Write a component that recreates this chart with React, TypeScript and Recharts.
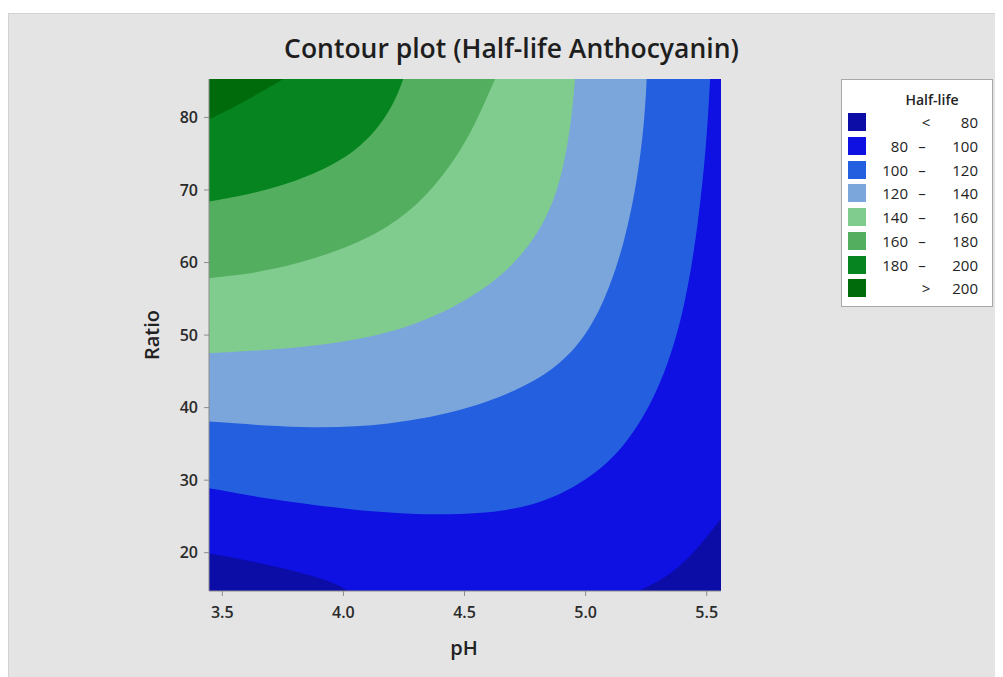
import { ComposedChart, Area, XAxis, YAxis, CartesianGrid } from "recharts";

const phTicks = [3.5, 4.0, 4.5, 5.0, 5.5];
const ratioTicks = [20, 30, 40, 50, 60, 70, 80];
const phMin = 3.445;
const phMax = 5.559;
const ratioMin = 14.72;
const ratioMax = 85.3;

// contour lines, as (pH, Ratio) points
const below80Left = [
  { ph: 3.445, ratio: 19.9 },
  { ph: 3.704, ratio: 18.3 },
  { ph: 3.875, ratio: 16.8 },
  { ph: 3.979, ratio: 15.6 },
  { ph: 4.02, ratio: 14.72 },
];
const below80Right = [
  { ph: 5.22, ratio: 14.72 },
  { ph: 5.355, ratio: 16.9 },
  { ph: 5.465, ratio: 20.6 },
  { ph: 5.559, ratio: 24.7 },
];
const level100 = [
  { ph: 3.445, ratio: 28.9 },
  { ph: 3.704, ratio: 27.3 },
  { ph: 4.048, ratio: 25.8 },
  { ph: 4.392, ratio: 25.1 },
  { ph: 4.667, ratio: 25.6 },
  { ph: 4.874, ratio: 27.4 },
  { ph: 5.08, ratio: 31.6 },
  { ph: 5.218, ratio: 37.2 },
  { ph: 5.328, ratio: 44.5 },
  { ph: 5.41, ratio: 53.7 },
  { ph: 5.465, ratio: 65.2 },
  { ph: 5.5, ratio: 76.7 },
  { ph: 5.514, ratio: 85.3 },
];
const level120 = [
  { ph: 3.445, ratio: 38.1 },
  { ph: 3.841, ratio: 37.1 },
  { ph: 4.185, ratio: 37.5 },
  { ph: 4.53, ratio: 39.8 },
  { ph: 4.805, ratio: 43.6 },
  { ph: 4.97, ratio: 48.2 },
  { ph: 5.08, ratio: 54.6 },
  { ph: 5.163, ratio: 62.9 },
  { ph: 5.218, ratio: 72.1 },
  { ph: 5.245, ratio: 80.4 },
  { ph: 5.252, ratio: 85.3 },
];
const level140 = [
  { ph: 3.445, ratio: 47.5 },
  { ph: 3.841, ratio: 48.2 },
  { ph: 4.185, ratio: 50.0 },
  { ph: 4.461, ratio: 53.7 },
  { ph: 4.667, ratio: 58.3 },
  { ph: 4.805, ratio: 63.8 },
  { ph: 4.887, ratio: 69.8 },
  { ph: 4.929, ratio: 76.7 },
  { ph: 4.949, ratio: 82.2 },
  { ph: 4.956, ratio: 85.3 },
];
const level160 = [
  { ph: 3.445, ratio: 57.85 },
  { ph: 3.704, ratio: 58.8 },
  { ph: 3.979, ratio: 61.5 },
  { ph: 4.185, ratio: 64.7 },
  { ph: 4.337, ratio: 68.9 },
  { ph: 4.447, ratio: 73.5 },
  { ph: 4.53, ratio: 78.1 },
  { ph: 4.592, ratio: 82.7 },
  { ph: 4.626, ratio: 85.3 },
];
const level180 = [
  { ph: 3.445, ratio: 68.4 },
  { ph: 3.704, ratio: 70.0 },
  { ph: 3.91, ratio: 72.6 },
  { ph: 4.048, ratio: 75.3 },
  { ph: 4.144, ratio: 78.5 },
  { ph: 4.213, ratio: 82.2 },
  { ph: 4.247, ratio: 85.3 },
];
const level200 = [
  { ph: 3.445, ratio: 79.7 },
  { ph: 3.594, ratio: 82.2 },
  { ph: 3.752, ratio: 85.3 },
];

const bandColors = [
  "#0c0ca6",
  "#0f10e2",
  "#245fe0",
  "#7aa6db",
  "#80cc8e",
  "#53af5f",
  "#05841f",
  "#006b0b",
];
const bandLow = ["", "80", "100", "120", "140", "160", "180", ""];
const bandSign = ["<", "–", "–", "–", "–", "–", "–", ">"];
const bandHigh = ["80", "100", "120", "140", "160", "180", "200", "200"];

const font = "'Open Sans', sans-serif";

export default function App() {
  const upper = [
    { data: level100, color: bandColors[2] },
    { data: level120, color: bandColors[3] },
    { data: level140, color: bandColors[4] },
    { data: level160, color: bandColors[5] },
    { data: level180, color: bandColors[6] },
    { data: level200, color: bandColors[7] },
  ];
  return (
    <div
      style={{
        marginTop: 5,
        width: 995,
        height: 664,
        background: "#e4e4e4",
        boxShadow: "inset 1px 1px 0 #d2d2d2",
        position: "relative",
        fontFamily: font,
        color: "#222",
      }}
    >
      <div
        style={{
          position: "absolute",
          left: 0,
          width: 1007,
          top: 15,
          lineHeight: "40px",
          fontSize: 26.5,
          fontWeight: 600,
          textAlign: "center",
          color: "#1e1e1e",
        }}
      >
        Contour plot (Half-life Anthocyanin)
      </div>

      <ComposedChart
        width={995}
        height={664}
        margin={{ top: 66, right: 282, bottom: 16, left: 141 }}
        style={{ position: "absolute", left: 0, top: 0, fontFamily: font }}
      >
        <CartesianGrid fill={bandColors[1]} horizontal={false} vertical={false} />
        <XAxis
          dataKey="ph"
          type="number"
          domain={[phMin, phMax]}
          allowDataOverflow
          ticks={phTicks}
          tickFormatter={(v) => Number(v).toFixed(1)}
          height={70}
          tickSize={5}
          tickMargin={11}
          stroke="#8c8c8c"
          tick={{ fill: "#2a2a2a", fontSize: 16, fontWeight: 600 }}
        />
        <XAxis
          xAxisId="top"
          orientation="top"
          type="number"
          domain={[phMin, phMax]}
          allowDataOverflow
          height={0}
          tick={false}
          tickLine={false}
          stroke="#b4b4b4"
        />
        <YAxis
          dataKey="ratio"
          type="number"
          domain={[ratioMin, ratioMax]}
          allowDataOverflow
          ticks={ratioTicks}
          width={60}
          tickSize={5}
          tickMargin={6}
          stroke="#8c8c8c"
          tick={{ fill: "#2a2a2a", fontSize: 16, fontWeight: 600 }}
        />
        <YAxis
          yAxisId="right"
          orientation="right"
          type="number"
          domain={[ratioMin, ratioMax]}
          allowDataOverflow
          width={0}
          tick={false}
          tickLine={false}
          stroke="#b4b4b4"
        />
        <Area
          data={below80Left}
          dataKey="ratio"
          type="basis"
          baseValue={ratioMin}
          fill={bandColors[0]}
          fillOpacity={1}
          stroke="none"
          dot={false}
          activeDot={false}
          isAnimationActive={false}
        />
        <Area
          data={below80Right}
          dataKey="ratio"
          type="basis"
          baseValue={ratioMin}
          fill={bandColors[0]}
          fillOpacity={1}
          stroke="none"
          dot={false}
          activeDot={false}
          isAnimationActive={false}
        />
        {upper.map((u, i) => (
          <Area
            key={i}
            data={u.data}
            dataKey="ratio"
            type="basis"
            baseValue={ratioMax}
            fill={u.color}
            fillOpacity={1}
            stroke="none"
            dot={false}
            activeDot={false}
            isAnimationActive={false}
          />
        ))}
      </ComposedChart>

      <div
        style={{
          position: "absolute",
          left: 436,
          top: 620,
          width: 40,
          textAlign: "center",
          fontSize: 20,
          fontWeight: 600,
          lineHeight: "30px",
        }}
      >
        pH
      </div>
      <div
        style={{
          position: "absolute",
          left: 143.7 - 40,
          top: 322 - 15,
          width: 80,
          height: 30,
          lineHeight: "30px",
          textAlign: "center",
          fontSize: 20,
          fontWeight: 600,
          transform: "rotate(-90deg)",
        }}
      >
        Ratio
      </div>

      <div
        style={{
          position: "absolute",
          left: 833,
          top: 66,
          width: 150,
          height: 226,
          background: "#fff",
          border: "1px solid #a8a8a8",
          fontSize: 15,
          color: "#222",
        }}
      >
        <div
          style={{
            position: "absolute",
            left: 0,
            width: 180,
            top: 10,
            lineHeight: "20px",
            textAlign: "center",
            fontSize: 14,
            fontWeight: 600,
          }}
        >
          Half-life
        </div>
        {bandColors.map((c, i) => (
          <div
            key={i}
            style={{
              position: "absolute",
              left: 0,
              top: 30 + i * 23.76,
              width: 150,
              height: 24,
              lineHeight: "24px",
            }}
          >
            <span
              style={{
                position: "absolute",
                left: 6,
                top: 3,
                width: 18,
                height: 18,
                background: c,
              }}
            />
            <span style={{ position: "absolute", right: 84, textAlign: "right" }}>{bandLow[i]}</span>
            <span
              style={{
                position: "absolute",
                left: i === 0 || i === 7 ? 78 : 74,
                width: 12,
                textAlign: "center",
              }}
            >
              {bandSign[i]}
            </span>
            <span style={{ position: "absolute", right: 14, textAlign: "right" }}>{bandHigh[i]}</span>
          </div>
        ))}
      </div>
    </div>
  );
}
